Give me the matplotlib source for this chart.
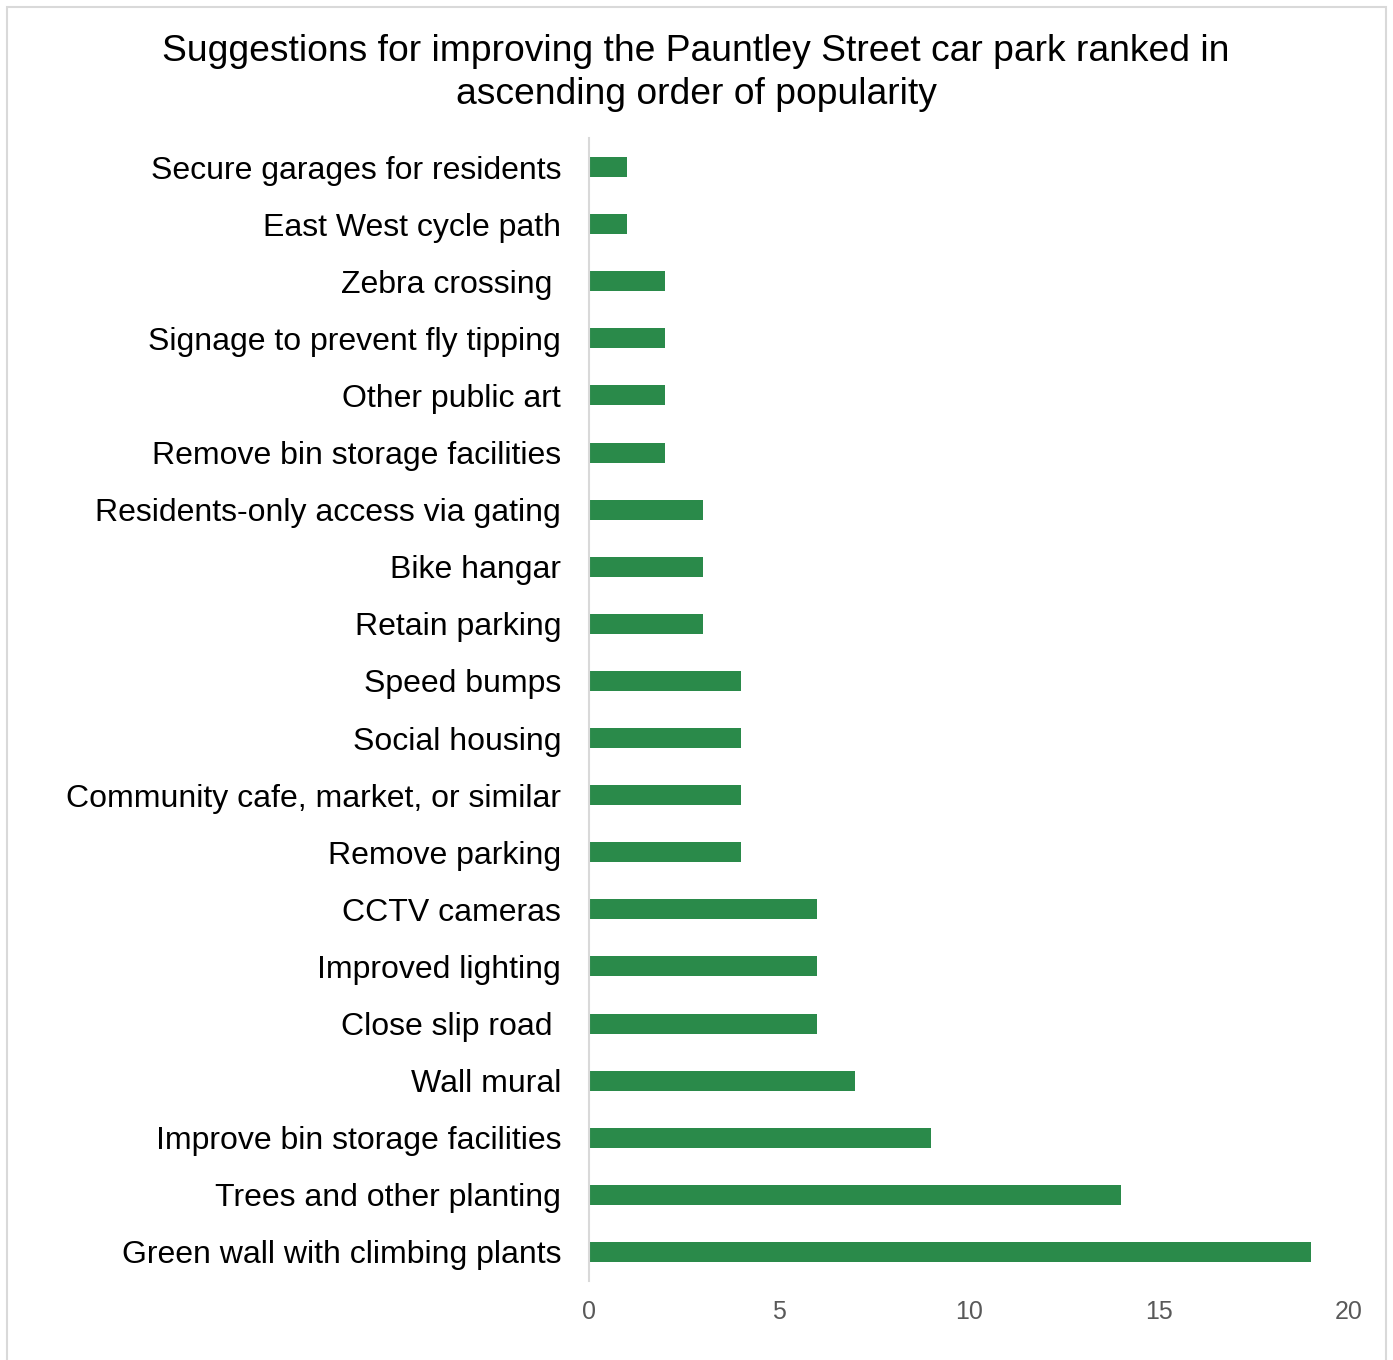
import matplotlib
matplotlib.use("Agg")
import matplotlib.pyplot as plt
from matplotlib.patches import Rectangle

categories = [
    "Secure garages for residents",
    "East West cycle path",
    "Zebra crossing ",
    "Signage to prevent fly tipping",
    "Other public art",
    "Remove bin storage facilities",
    "Residents-only access via gating",
    "Bike hangar",
    "Retain parking",
    "Speed bumps",
    "Social housing",
    "Community cafe, market, or similar",
    "Remove parking",
    "CCTV cameras",
    "Improved lighting",
    "Close slip road ",
    "Wall mural",
    "Improve bin storage facilities",
    "Trees and other planting",
    "Green wall with climbing plants",
]
values = [1, 1, 2, 2, 2, 2, 3, 3, 3, 4, 4, 4, 4, 6, 6, 6, 7, 9, 14, 19]
xticks = [0, 5, 10, 15, 20]
title = "Suggestions for improving the Pauntley Street car park ranked in\nascending order of popularity"

plt.rcParams['font.family'] = ['Liberation Sans', 'DejaVu Sans']

W, H = 1393, 1360
fig = plt.figure(figsize=(W / 100, H / 100), dpi=100)
fig.patches.append(Rectangle((6.5 / W, -0.01), (1386 - 6.5) / W, 1 - 6.5 / H + 0.01,
                             transform=fig.transFigure, fill=False,
                             edgecolor="#D9D9D9", linewidth=1.5))

left, right = 589 / W, 1349 / W
top, bottom = 1 - 138.5 / H, 1 - 1280.5 / H
ax = fig.add_axes([left, bottom, right - left, top - bottom])

ypos = list(range(len(categories)))
ax.barh(ypos, values, height=0.35, color="#2A8A4A")
ax.set_ylim(len(categories) - 0.5, -0.5)
ax.set_xlim(0, 20)
ax.set_yticks(ypos)
ax.set_yticklabels(categories, fontsize=23, color="black")
ax.set_xticks(xticks)
ax.set_xticklabels([str(t) for t in xticks], fontsize=18, color="#595959")
ax.tick_params(axis="y", length=0, pad=20)
ax.tick_params(axis="x", length=0, pad=14)
for s in ["top", "right", "bottom"]:
    ax.spines[s].set_visible(False)
ax.spines["left"].set_color("#D9D9D9")
ax.spines["left"].set_linewidth(1.5)

fig.text(696 / W, 1 - 73 / H, title, ha="center", va="center", fontsize=26.8,
         color="black", linespacing=1.28)

fig.savefig("out.png", dpi=100, facecolor="white")
